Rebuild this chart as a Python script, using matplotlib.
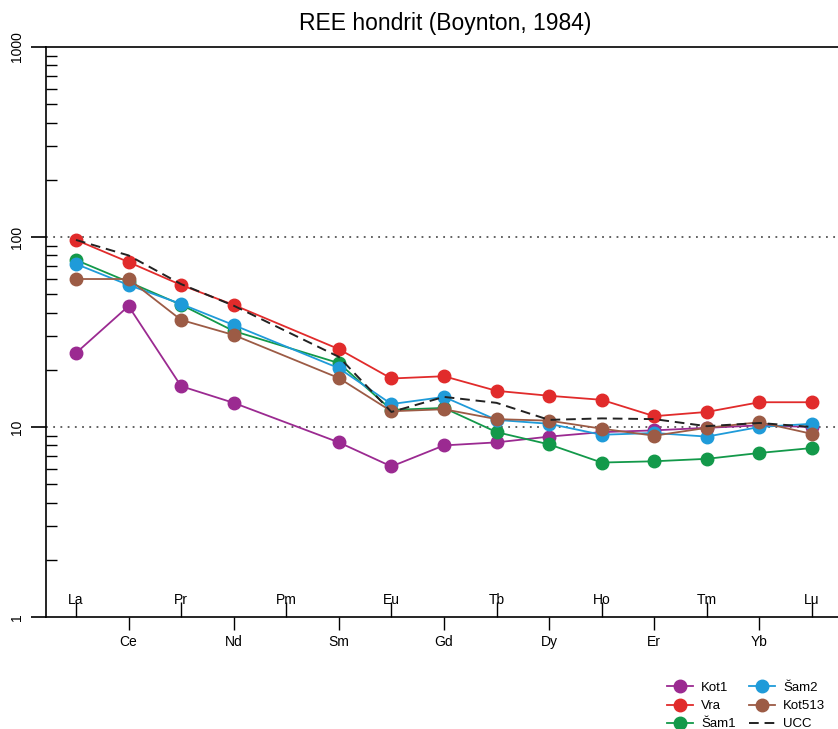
import numpy as np
import matplotlib
matplotlib.use("Agg")
import matplotlib.pyplot as plt
from matplotlib.ticker import FixedLocator, NullFormatter, LogLocator

plt.rcParams['font.family'] = ['Liberation Sans', 'DejaVu Sans']

# all REE in order (Pm has no data)
elements = ["La", "Ce", "Pr", "Nd", "Pm", "Sm", "Eu", "Gd", "Tb", "Dy", "Ho", "Er", "Tm", "Yb", "Lu"]
data_elements = ["La", "Ce", "Pr", "Nd", "Sm", "Eu", "Gd", "Tb", "Dy", "Ho", "Er", "Tm", "Yb", "Lu"]

kot1 = [24.5, 43.3, 16.4, 13.4, 8.3, 6.2, 8.0, 8.3, 8.9, 9.4, 9.6, 9.9, 10.2, 10.0]
vra = [96.5, 73.8, 55.9, 43.9, 25.7, 18.0, 18.5, 15.5, 14.6, 13.9, 11.4, 12.0, 13.5, 13.5]
sam1 = [75.7, 58.0, 44.0, 32.0, 21.7, 12.3, 12.6, 9.4, 8.1, 6.5, 6.6, 6.8, 7.3, 7.75]
sam2 = [72.1, 55.9, 44.4, 34.4, 20.4, 13.2, 14.4, 10.9, 10.4, 9.1, 9.3, 8.9, 10.0, 10.4]
kot513 = [60.1, 60.1, 36.6, 30.5, 18.1, 12.1, 12.4, 11.0, 10.8, 9.8, 9.0, 9.9, 10.6, 9.2]
ucc = [96.5, 80.0, 56.5, 43.5, 23.4, 12.0, 14.4, 13.4, 10.9, 11.1, 11.0, 10.1, 10.5, 10.0]

series = [
    ("Kot1", kot1, "#9b2a91"),
    ("Vra", vra, "#e12b2b"),
    ("Šam1", sam1, "#13994a"),
    ("Šam2", sam2, "#1f9bd9"),
    ("Kot513", kot513, "#9c5b45"),
]

xpos = {el: i + 1 for i, el in enumerate(elements)}
xs = [xpos[el] for el in data_elements]

W, H = 838, 729
fig = plt.figure(figsize=(W / 100, H / 100), dpi=100)
ax = fig.add_axes([46 / W, 1 - 617 / H, 797.5 / W, 570 / H])

ax.axhline(10, color="#555555", ls=(0, (1, 3)), lw=1.3, zorder=1)
ax.axhline(100, color="#555555", ls=(0, (1, 3)), lw=1.3, zorder=1)

for name, vals, col in series:
    ax.plot(xs, vals, color=col, lw=1.3, marker="o", ms=9, label=name, zorder=3)
ax.plot(xs, ucc, color="#222222", ls=(0, (5, 3)), lw=1.4, label="UCC", zorder=4)

ax.set_yscale("log")
ax.set_ylim(1, 1000)
ax.set_xlim(0.43, 15.6)

# y axis: majors outward, minors inward
ax.yaxis.set_minor_locator(LogLocator(base=10, subs=np.arange(2, 10), numticks=10))
ax.yaxis.set_minor_formatter(NullFormatter())
ax.set_yticks([1, 10, 100, 1000])
ax.set_yticklabels(["1", "10", "100", "1000"], rotation=90, va="center")
ax.tick_params(axis="y", which="major", direction="out", length=11, width=1.2, pad=5, labelsize=10)
ax.tick_params(axis="y", which="minor", direction="in", length=8, width=1.0)

# x axis: even elements below (outward), odd elements above (inward)
major_x = [xpos[el] for el in elements[1::2]]
minor_x = [xpos[el] for el in elements[0::2]]
ax.xaxis.set_major_locator(FixedLocator(major_x))
ax.xaxis.set_minor_locator(FixedLocator(minor_x))
ax.set_xticklabels(elements[1::2])
ax.set_xticklabels(elements[0::2], minor=True)
ax.tick_params(axis="x", which="major", direction="out", length=9, width=1.0, pad=4, labelsize=10)
ax.tick_params(axis="x", which="minor", direction="in", length=11, width=1.0, pad=-17, labelsize=10)

ax.spines["right"].set_visible(False)
for s in ["left", "bottom", "top"]:
    ax.spines[s].set_linewidth(1.2)

ax.set_title("REE hondrit (Boynton, 1984)", fontsize=16.5, pad=12)

fig.legend(loc="upper left", bbox_to_anchor=(655 / W, 1 - 670 / H), ncol=2,
           frameon=False, fontsize=9.5, handlelength=2.0, columnspacing=1.0,
           labelspacing=0.45, handletextpad=0.6)

fig.savefig("out.png", dpi=100)
